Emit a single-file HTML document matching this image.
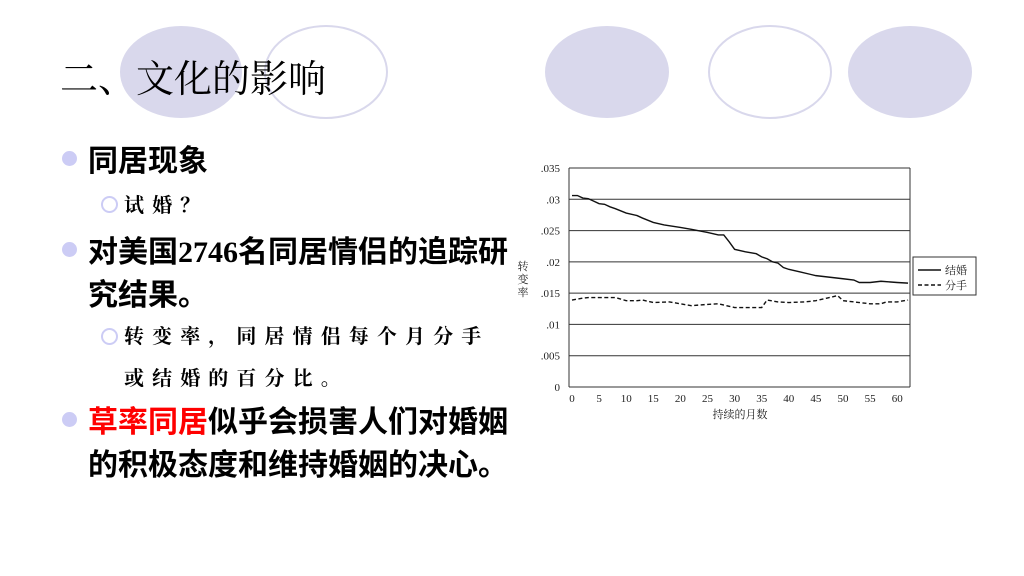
<!DOCTYPE html>
<html><head><meta charset="utf-8">
<style>
body{margin:0;width:1024px;height:576px;background:#fff;position:relative;overflow:hidden;font-family:"Liberation Sans","Noto Sans CJK SC",sans-serif;}
.abs{position:absolute;white-space:nowrap;}
.b1{font-weight:bold;font-size:30px;color:#000;font-family:"Liberation Sans","Noto Sans CJK SC",sans-serif;}
.b2{font-size:20px;letter-spacing:8.1px;color:#000;font-family:"Liberation Serif","Noto Serif CJK SC",serif;font-weight:bold;}
.dot{position:absolute;width:15px;height:15px;border-radius:50%;background:#ccccf5;}
.ring{position:absolute;width:13px;height:13px;border-radius:50%;border:2px solid #ccccf5;}
</style></head><body>
<svg class="abs" style="left:0;top:0" width="1024" height="140">
<ellipse cx="181" cy="72" rx="61" ry="46" fill="#d9d8ec"/>
<ellipse cx="326" cy="72" rx="61" ry="46" fill="none" stroke="#d9d8ec" stroke-width="2"/>
<ellipse cx="607" cy="72" rx="62" ry="46" fill="#d9d8ec"/>
<ellipse cx="770" cy="72" rx="61" ry="46" fill="none" stroke="#d9d8ec" stroke-width="2"/>
<ellipse cx="910" cy="72" rx="62" ry="46" fill="#d9d8ec"/>
</svg>
<div class="abs" style="left:60px;top:48px;font-size:38px;font-family:'Liberation Serif','Noto Serif CJK SC',serif;">二、文化的影响</div>

<div class="dot" style="left:62px;top:151px"></div>
<div class="abs b1" style="left:88px;top:146px;line-height:32px">同居现象</div>
<div class="ring" style="left:101px;top:196px"></div>
<div class="abs b2" style="left:124px;top:193px;line-height:26px">试婚？</div>

<div class="dot" style="left:62px;top:242px"></div>
<div class="abs b1" style="left:88px;top:231px;line-height:43px">对美国<span style="font-family:'Liberation Serif',serif">2746</span>名同居情侣的追踪研<br>究结果。</div>
<div class="ring" style="left:101px;top:328px"></div>
<div class="abs b2" style="left:124px;top:316px;line-height:42px">转变率，同居情侣每个月分手<br>或结婚的百分比。</div>

<div class="dot" style="left:62px;top:412px"></div>
<div class="abs b1" style="left:88px;top:401px;line-height:43px"><span style="color:#ff0000">草率同居</span>似乎会损害人们对婚姻<br>的积极态度和维持婚姻的决心。</div>

<svg id="chart" class="abs" style="left:500px;top:150px" width="500" height="280"></svg>
<script>
const yTicks=[0,0.005,0.01,0.015,0.02,0.025,0.03,0.035];
const yTickLabels=["0",".005",".01",".015",".02",".025",".03",".035"];
const xTicks=[0,5,10,15,20,25,30,35,40,45,50,55,60];
const marriageMonths=[0,1,2,3,4,5,6,7,8,10,12,13,15,17,20,22,25,27,28,29,30,32,34,35,36,37,38,39,40,42,44,45,47,50,52,53,55,57,60,62];
const marriageRates=[.0306,.0306,.0302,.0301,.0297,.0293,.0292,.0288,.0285,.0278,.0274,.0270,.0263,.0259,.0255,.0252,.0247,.0243,.0243,.0232,.0220,.0216,.0213,.0208,.0205,.0200,.0198,.0191,.0188,.0184,.0180,.0178,.0176,.0173,.0171,.0167,.0167,.0169,.0167,.0166];
const breakupMonths=[0,2,3,6,8,10,12,13,15,18,20,22,25,27,30,32,35,36,38,40,43,45,47,49,50,53,55,57,58,60,62];
const breakupRates=[.0139,.0142,.0143,.0143,.0143,.0138,.0138,.0139,.0135,.0136,.0133,.0130,.0132,.0133,.0127,.0127,.0127,.0139,.0136,.0135,.0136,.0138,.0142,.0146,.0138,.0135,.0133,.0133,.0136,.0136,.0139];
const svg=document.getElementById('chart');const NS='http://www.w3.org/2000/svg';
const ox=500,oy=150;
const X=m=>572-ox+m*5.42;
const Y=v=>387-oy-v/0.035*219;
const L=69,R=410;
function mk(t,a,txt){const e=document.createElementNS(NS,t);for(const k in a)e.setAttribute(k,a[k]);if(txt!==undefined)e.textContent=txt;svg.appendChild(e);return e;}
const ff='Liberation Serif,Noto Serif CJK SC,serif';
yTicks.forEach((v,i)=>{
 const g=mk('line',{x1:L,x2:R,y1:Y(v),y2:Y(v),stroke:'#333','stroke-width':1});
 
 
 const t=mk('text',{x:L-9,y:Y(v)+4,'text-anchor':'end','font-size':11,'font-family':ff,fill:'#222'},yTickLabels[i]);
 
 
});
const ax=mk('line',{x1:L,x2:L,y1:Y(0.035),y2:Y(0),stroke:'#333'});


const ax2=mk('line',{x1:R,x2:R,y1:Y(0.035),y2:Y(0),stroke:'#333'});


xTicks.forEach(m=>{
 const t=mk('text',{x:X(m),y:Y(0)+15,'text-anchor':'middle','font-size':11,'font-family':ff,fill:'#222'},String(m));
 
 
});
const xt=mk('text',{x:240,y:Y(0)+31,'text-anchor':'middle','font-size':11,'font-family':ff,fill:'#222'},'持续的月数');


['转','变','率'].forEach((c,i)=>{const t=mk('text',{x:23,y:120+i*13,'text-anchor':'middle','font-size':11,'font-family':ff,fill:'#222'},c);
 
 });
const p1=mk('polyline',{points:marriageMonths.map((m,i)=>X(m)+','+Y(marriageRates[i])).join(' '),fill:'none',stroke:'#111','stroke-width':1.4});


const p2=mk('polyline',{points:breakupMonths.map((m,i)=>X(m)+','+Y(breakupRates[i])).join(' '),fill:'none',stroke:'#111','stroke-width':1.4,'stroke-dasharray':'4,2.5'});


const lg=mk('rect',{x:413,y:107,width:63,height:38,fill:'#fff',stroke:'#333'});


mk('line',{x1:418,x2:441,y1:120,y2:120,stroke:'#111','stroke-width':1.4});
mk('line',{x1:418,x2:441,y1:135,y2:135,stroke:'#111','stroke-width':1.4,'stroke-dasharray':'4,2.5'});
const l1=mk('text',{x:445,y:124,'font-size':11,'font-family':ff,fill:'#222'},'结婚');


const l2=mk('text',{x:445,y:139,'font-size':11,'font-family':ff,fill:'#222'},'分手');


</script>
</body></html>
